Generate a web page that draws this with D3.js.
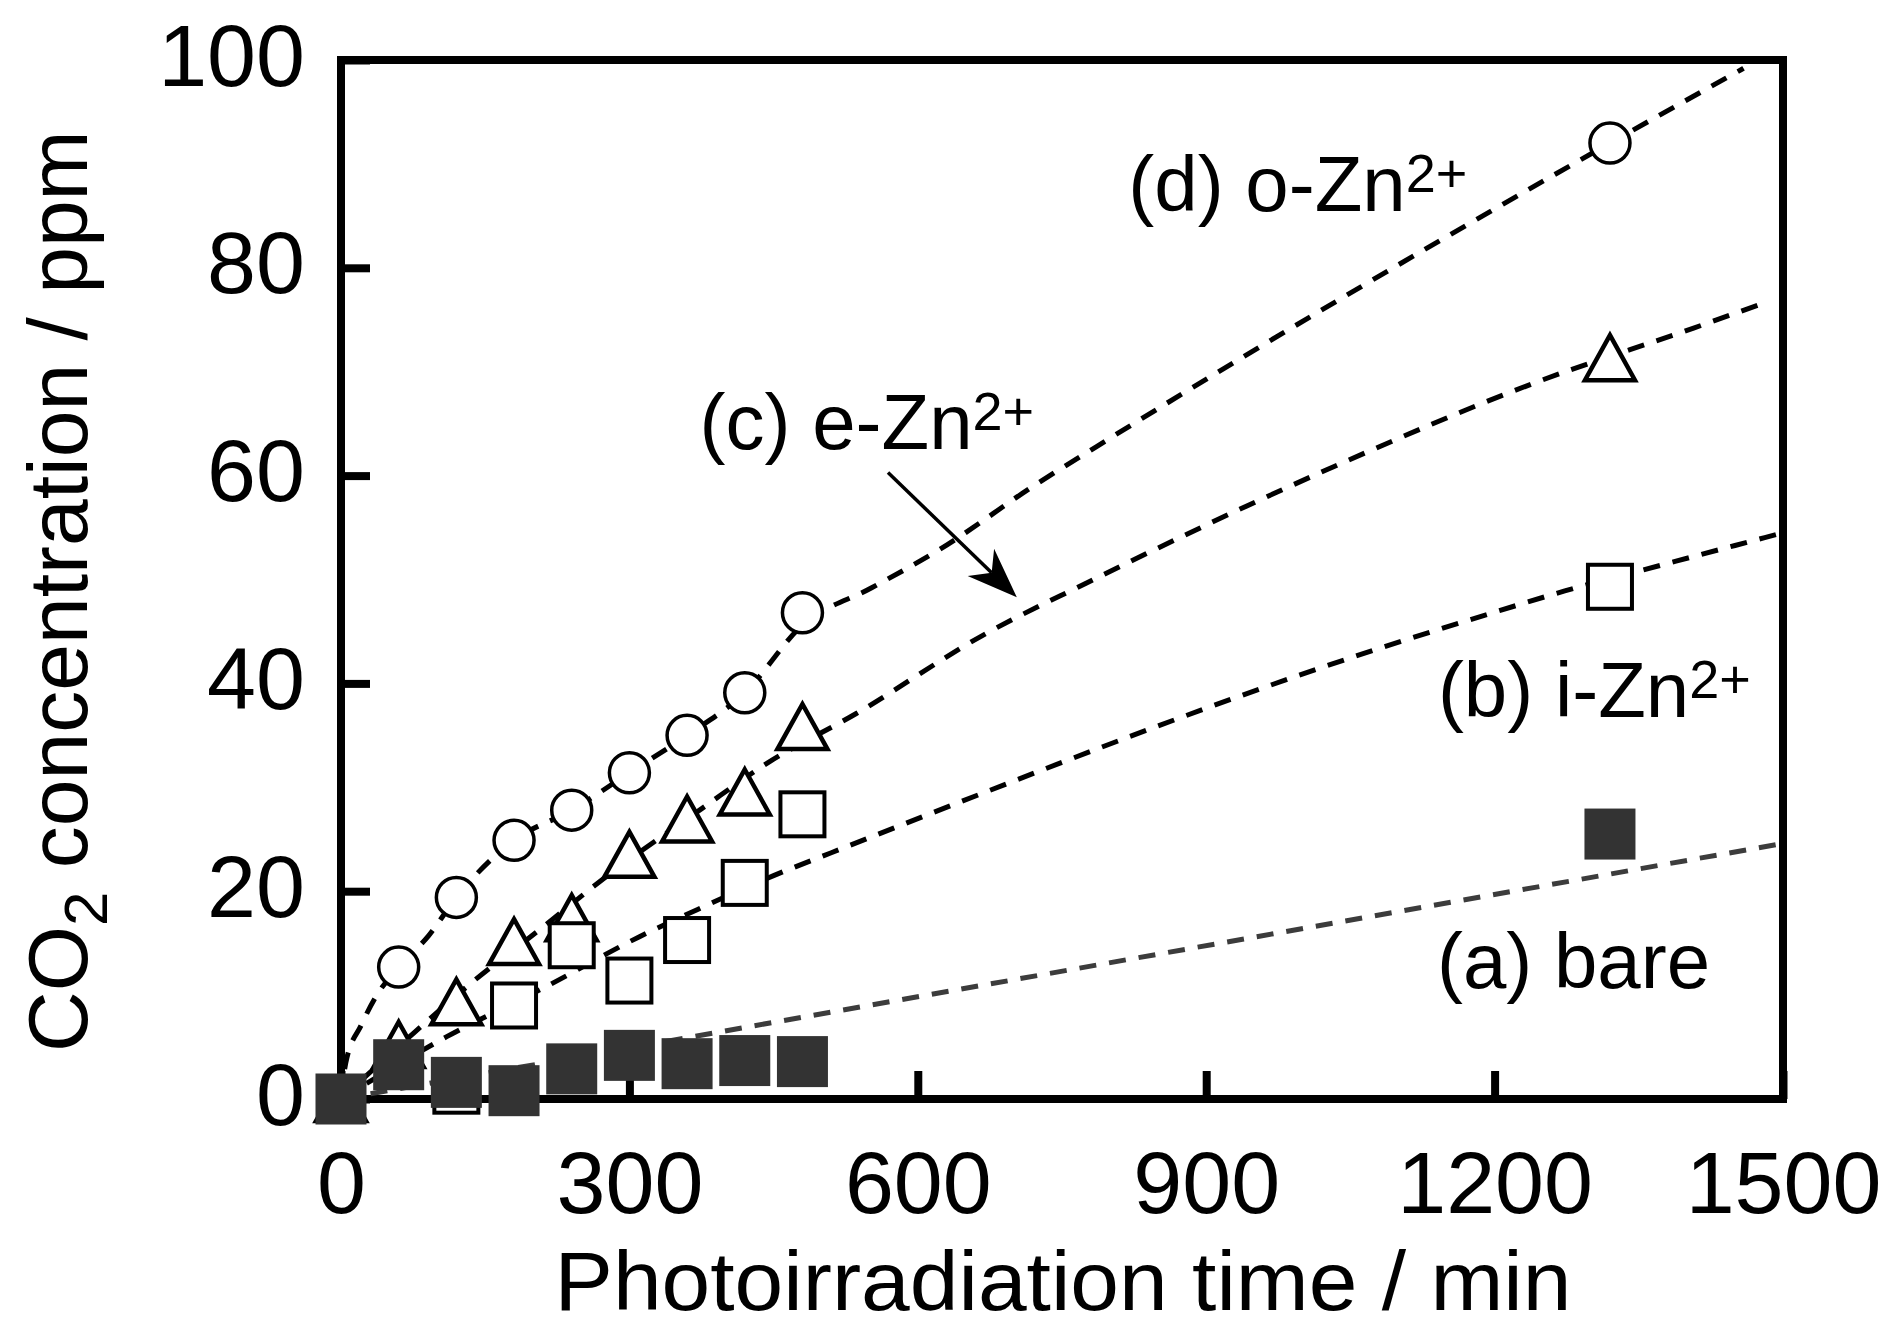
<!DOCTYPE html>
<html lang="en">
<head>
  <meta charset="UTF-8" />
  <title>CO2 concentration vs photoirradiation time</title>
  <script src="https://cdnjs.cloudflare.com/ajax/libs/d3/7.8.5/d3.min.js"></script>
  <style>
    html, body {
      margin: 0;
      padding: 0;
      background: #fff;
    }
    svg {
      display: block;
      font-family: "Liberation Sans", Arial, Helvetica, sans-serif;
    }
  </style>
</head>
<body>
  <svg id="chart" width="1885" height="1328"></svg>
  <script>
    // sampling times (min)
    const times = [0, 60, 120, 180, 240, 300, 360, 420, 480, 1320];

    // CO2 concentration (ppm) for each sample
    const bare = [0, 3.3, 1.6, 0.8, 2.9, 4.2, 3.4, 3.7, 3.6, 25.5];
    const iZn  = [0, 3.2, 0.8, 9.0, 14.8, 11.4, 15.3, 20.8, 27.4, 49.3];
    const eZn  = [0, 5.2, 9.3, 15.1, 17.4, 23.5, 26.9, 29.5, 35.8, 71.3];
    const oZn  = [0, 12.7, 19.4, 24.9, 27.8, 31.4, 35.0, 39.1, 46.8, 92.0];

    // dashed guide curves as drawn in the figure, [min, ppm]
    const guideA = [[0, 0], [1500, 24.6]];
    const guideB = [[0, 0], [110, 6.0], [213, 10.8], [310, 15.6], [377, 18.5], [450, 21.5],
                    [510, 23.7], [1081, 43.4], [1205, 47.0], [1273, 48.9], [1370, 51.3], [1500, 54.5]];
    const guideC = [[0, 0], [75, 6.3], [136, 11.2], [208, 16.4], [273, 21.2], [376, 28.0],
                    [443, 32.3], [536, 37.1], [669, 44.7], [774, 49.6], [1041, 61.2],
                    [1241, 68.9], [1407, 74.2], [1480, 76.6]];
    const guideD = [[0, 0], [5, 3.5], [21, 7.1], [36, 9.8], [60, 12.7], [91, 15.7], [120, 19.4],
                    [180, 24.9], [240, 27.8], [300, 31.4], [360, 35.0], [420, 39.1], [480, 45.6],
                    [552, 49.2], [623, 52.9], [722, 59.1], [786, 62.8], [1320, 92.0], [1459, 99.2]];

    const xTicks = [0, 300, 600, 900, 1200, 1500];
    const yTicks = [0, 20, 40, 60, 80, 100];

    // series labels: text, superscript, anchor point [min, ppm]
    const labels = [
      { text: "(d) o-Zn", sup: "2+", at: [819, 85.5] },
      { text: "(c) e-Zn", sup: "2+", at: [373, 62.6] },
      { text: "(b) i-Zn", sup: "2+", at: [1141, 36.8] },
      { text: "(a) bare", sup: "",   at: [1140, 10.7] }
    ];
    // arrow pointing from the (c) label to its curve
    const arrowFrom = [569, 60.3];
    const arrowTo = [703, 48.3];

    const svg = d3.select("#chart");
    const plotL = 341, plotR = 1783, plotT = 60, plotB = 1099;

    const x = d3.scaleLinear().domain([0, 1500]).range([plotL, plotR]);
    const y = d3.scaleLinear().domain([0, 100]).range([plotB, plotT]);

    svg.append("rect").attr("width", 1885).attr("height", 1328).attr("fill", "#fff");

    svg.append("defs").append("clipPath").attr("id", "plotClip")
      .append("rect")
      .attr("x", plotL).attr("y", plotT)
      .attr("width", plotR - plotL).attr("height", plotB - plotT);

    // axes (inward ticks)
    const xAxis = svg.append("g")
      .attr("transform", `translate(0,${plotB})`)
      .call(d3.axisBottom(x).tickValues(xTicks).tickFormat(d3.format("d"))
        .tickSizeInner(-28).tickSizeOuter(0).tickPadding(0));
    const yAxis = svg.append("g")
      .attr("transform", `translate(${plotL},0)`)
      .call(d3.axisLeft(y).tickValues(yTicks).tickFormat(d3.format("d"))
        .tickSizeInner(-29).tickSizeOuter(0).tickPadding(0));

    [xAxis, yAxis].forEach(g => {
      g.attr("font-family", null).attr("font-size", null);
      g.select(".domain").remove();
      g.selectAll(".tick line").attr("stroke", "#000").attr("stroke-width", 8);
      g.selectAll(".tick text")
        .attr("fill", "#000")
        .style("font-size", "88px");
    });
    xAxis.selectAll(".tick text").attr("y", 114).attr("dy", null);
    yAxis.selectAll(".tick text").attr("x", -36).attr("dy", "25px");

    // frame
    svg.append("rect")
      .attr("x", plotL).attr("y", plotT)
      .attr("width", plotR - plotL).attr("height", plotB - plotT)
      .attr("fill", "none")
      .attr("stroke", "#000")
      .attr("stroke-width", 8);

    // axis titles
    svg.append("text")
      .attr("x", (plotL + plotR) / 2 + 1)
      .attr("y", 1310)
      .attr("text-anchor", "middle")
      .attr("textLength", 1017)
      .attr("lengthAdjust", "spacingAndGlyphs")
      .style("font-size", "84px")
      .text("Photoirradiation time / min");

    const yTitle = svg.append("text")
      .attr("transform", "translate(87,1052) rotate(-90)")
      .attr("text-anchor", "start")
      .style("font-size", "84px");
    yTitle.append("tspan").text("CO");
    yTitle.append("tspan").attr("dy", 20).style("font-size", "62px").text("2");
    yTitle.append("tspan").attr("dy", -20).text(" concentration / ppm");

    // dashed guide curves
    const line = d3.line()
      .x(d => x(d[0]))
      .y(d => y(d[1]))
      .curve(d3.curveMonotoneX);

    const guides = [
      { pts: guideA, color: "#3c3c3c" },
      { pts: guideB, color: "#000" },
      { pts: guideC, color: "#000" },
      { pts: guideD, color: "#000" }
    ];
    svg.append("g").attr("clip-path", "url(#plotClip)")
      .selectAll("path")
      .data(guides)
      .join("path")
      .attr("d", d => line(d.pts))
      .attr("fill", "none")
      .attr("stroke", d => d.color)
      .attr("stroke-width", 5)
      .attr("stroke-dasharray", "17,13");

    // markers
    const pts = vals => times.map((t, i) => [t, vals[i]]);

    svg.append("g").selectAll("circle")
      .data(pts(oZn))
      .join("circle")
      .attr("cx", d => x(d[0]))
      .attr("cy", d => y(d[1]))
      .attr("r", 20)
      .attr("fill", "#fff")
      .attr("stroke", "#000")
      .attr("stroke-width", 3.5);

    svg.append("g").selectAll("path")
      .data(pts(eZn))
      .join("path")
      .attr("d", d => {
        const cx = x(d[0]), cy = y(d[1]);
        return `M${cx},${cy - 23}L${cx + 25},${cy + 22}L${cx - 25},${cy + 22}Z`;
      })
      .attr("fill", "#fff")
      .attr("stroke", "#000")
      .attr("stroke-width", 4.5)
      .attr("stroke-linejoin", "miter");

    svg.append("g").selectAll("rect")
      .data(pts(iZn))
      .join("rect")
      .attr("x", d => x(d[0]) - 22)
      .attr("y", d => y(d[1]) - 22)
      .attr("width", 44)
      .attr("height", 44)
      .attr("fill", "#fff")
      .attr("stroke", "#000")
      .attr("stroke-width", 4);

    svg.append("g").selectAll("rect")
      .data(pts(bare))
      .join("rect")
      .attr("x", d => x(d[0]) - 25.5)
      .attr("y", d => y(d[1]) - 25.5)
      .attr("width", 51)
      .attr("height", 51)
      .attr("fill", "#333");

    // series labels
    labels.forEach(l => {
      const t = svg.append("text")
        .attr("x", x(l.at[0]))
        .attr("y", y(l.at[1]))
        .style("font-size", "78px");
      t.append("tspan").text(l.text);
      if (l.sup) t.append("tspan").attr("dy", -19).style("font-size", "54px").text(l.sup);
    });

    // arrow for (c)
    const sx = x(arrowFrom[0]), sy = y(arrowFrom[1]);
    const tx = x(arrowTo[0]), ty = y(arrowTo[1]);
    const len = Math.hypot(tx - sx, ty - sy);
    const ux = (tx - sx) / len, uy = (ty - sy) / len;
    const nx = -uy, ny = ux;
    const headL = 50, headW = 19;
    const bx = tx - headL * ux, by = ty - headL * uy;
    const mx = tx - 0.7 * headL * ux, my = ty - 0.7 * headL * uy;
    svg.append("line")
      .attr("x1", sx).attr("y1", sy)
      .attr("x2", mx).attr("y2", my)
      .attr("stroke", "#000")
      .attr("stroke-width", 3.5);
    svg.append("path")
      .attr("d", `M${tx},${ty}L${bx + headW * nx},${by + headW * ny}L${mx},${my}L${bx - headW * nx},${by - headW * ny}Z`)
      .attr("fill", "#000");
  </script>
</body>
</html>
